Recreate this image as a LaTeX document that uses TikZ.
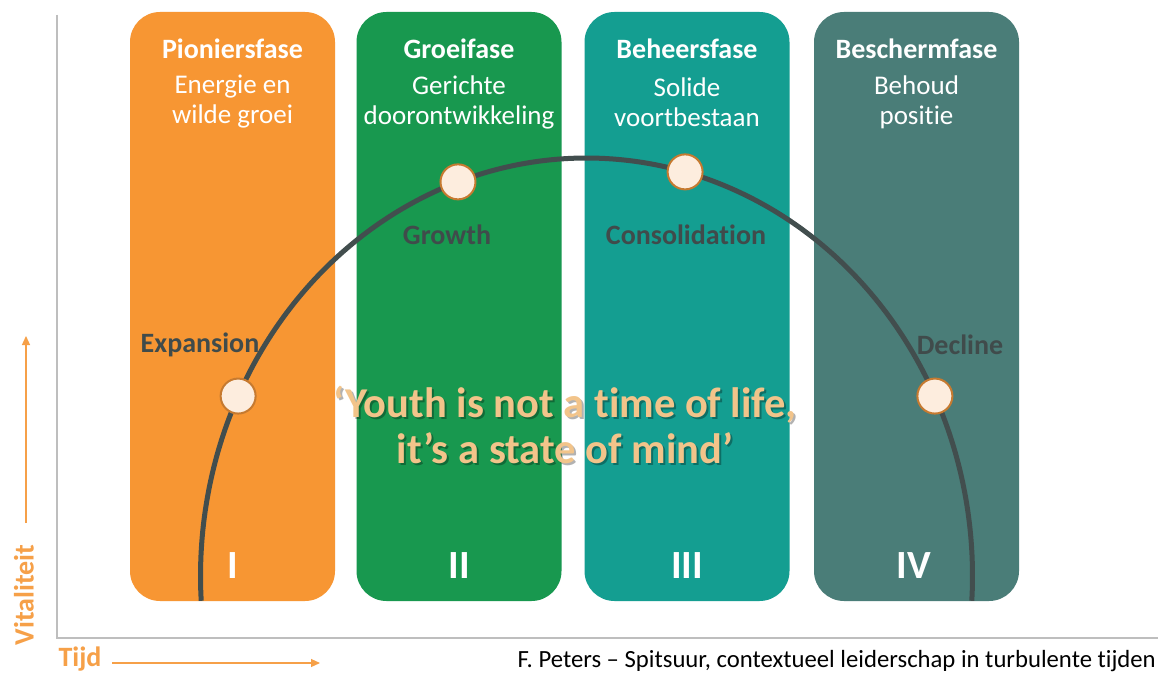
\documentclass[tikz,border=0pt]{standalone}
\usepackage{fontspec}
\setmainfont[Ligatures=NoCommon]{Carlito}
\usetikzlibrary{arrows.meta}
\definecolor{cOrange}{RGB}{247,150,51}
\definecolor{cGreen}{RGB}{24,152,79}
\definecolor{cTeal}{RGB}{20,158,145}
\definecolor{cSlate}{RGB}{74,125,120}
\definecolor{cCurve}{RGB}{66,78,78}
\definecolor{cLabel}{RGB}{64,75,75}
\definecolor{cQuote}{RGB}{242,196,138}
\definecolor{cDotFill}{RGB}{253,237,222}
\definecolor{cDotDraw}{RGB}{198,122,48}
\definecolor{cAxis}{RGB}{190,190,190}
\definecolor{cAxText}{RGB}{246,160,72}
\begin{document}
\begin{tikzpicture}[x=1pt,y=-1pt,
  phasebox/.style={fill=#1, draw=none, rounded corners=30pt, minimum width=205pt, minimum height=589pt, inner sep=0pt},
  phasetitle/.style={text=white, font=\fontsize{28}{31}\selectfont\bfseries, inner sep=0pt},
  phasesub/.style={text=white, font=\fontsize{27}{30}\selectfont, align=center, inner sep=0pt},
  numeral/.style={text=white, font=\fontsize{40}{44}\selectfont\bfseries, inner sep=0pt},
  stagelabel/.style={text=cLabel, font=\fontsize{28}{31}\selectfont\bfseries, inner sep=0pt},
  dot/.style={circle, fill=cDotFill, draw=cDotDraw, line width=2pt, minimum size=35pt, inner sep=0pt},
  curveline/.style={draw=cCurve, line width=5pt},
  axisline/.style={draw=cAxis, line width=2.5pt},
  axisarrow/.style={draw=cAxText, line width=1.2pt, -{Triangle[length=9pt,width=8pt]}},
  axtext/.style={text=cAxText, font=\fontsize{28}{32}\selectfont\bfseries, inner sep=0pt},
  quotetext/.style={font=\fontsize{42.5}{46}\selectfont\bfseries, align=center, inner sep=0pt}
]
\useasboundingbox (0,0) rectangle (1161,674);
\fill[white] (0,0) rectangle (1161,674);

% axes
\coordinate (axtop) at (57,15);
\coordinate (axorigin) at (57,638);
\coordinate (axright) at (1158,638);
\draw[axisline] (axtop) -- (axorigin) -- (axright);

% phase boxes
\node[phasebox=cOrange] (b1) at (232.5,306.5) {};
\node[phasebox=cGreen] (b2) at (459,306.5) {};
\node[phasebox=cTeal] (b3) at (687,306.5) {};
\node[phasebox=cSlate] (b4) at (916.5,306.5) {};

% titles
\node[phasetitle] (t1) at (232.5,49) {Pioniersfase};
\node[phasetitle] (t2) at (459,49) {Groeifase};
\node[phasetitle] (t3) at (687,49) {Beheersfase};
\node[phasetitle] (t4) at (916.5,49) {Beschermfase};
\node[phasesub] (s1) at (232.5,102) {Energie en\\wilde groei};
\node[phasesub] (s2) at (459,102) {Gerichte\\doorontwikkeling};
\node[phasesub] (s3) at (687,102) {Solide\\voortbestaan};
\node[phasesub] (s4) at (916.5,102) {Behoud\\positie};

% numerals
\node[numeral] (n1) at (232.5,566) {I};
\node[numeral] (n2) at (459,566) {II};
\node[numeral] (n3) at (687,566) {III};
\node[numeral] (n4) at (914,566) {IV};

% curve
\draw[curveline] plot[domain=183.4:-3.4, samples=120, smooth] ({586.5+386*cos(\x)},{576-418*sin(\x)});

% dots
\node[dot] (d1) at ({586.5+386*cos(154.5)},{576-418*sin(154.5)}) {};
\node[dot] (d2) at ({586.5+386*cos(109.45)},{576-418*sin(109.45)}) {};
\node[dot] (d3) at ({586.5+386*cos(75.2)},{576-418*sin(75.2)}) {};
\node[dot] (d4) at ({586.5+386*cos(25.5)},{576-418*sin(25.5)}) {};

% stage labels
\node[stagelabel] (l1) at (200,345) {Expansion};
\node[stagelabel] (l2) at (447,235) {Growth};
\node[stagelabel] (l3) at (686,235) {Consolidation};
\node[stagelabel] (l4) at (960,345) {Decline};

% quote
\node[quotetext, text=black, opacity=0.3] (qs) at (567,427) {‘Youth is not a time of life,\\it’s a state of mind’};
\node[quotetext, text=cQuote] (q) at (565,425) {‘Youth is not a time of life,\\it’s a state of mind’};

% axis labels
\coordinate (vstart) at (26,523);
\coordinate (vend) at (26,336);
\draw[axisarrow] (vstart) -- (vend);
\node[axtext, rotate=90] (vt) at (24,595) {Vitaliteit};
\node[axtext] (tt) at (80,659) {Tijd};
\coordinate (hstart) at (112,663);
\coordinate (hend) at (320,663);
\draw[axisarrow] (hstart) -- (hend);

% credit
\node[anchor=east, font=\fontsize{24.7}{28}\selectfont, inner sep=0pt] (cr) at (1156,661) {F. Peters – Spitsuur, contextueel leiderschap in turbulente tijden};
\end{tikzpicture}
\end{document}
